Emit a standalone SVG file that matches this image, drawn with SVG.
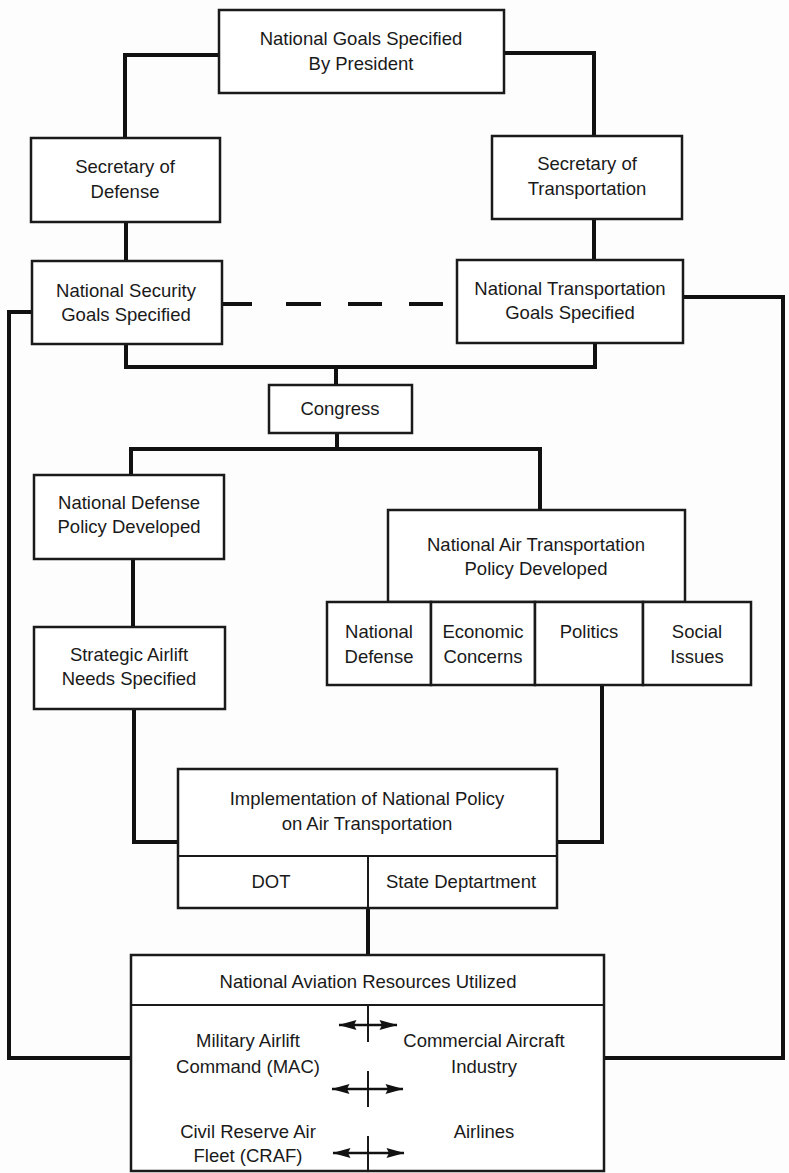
<svg xmlns="http://www.w3.org/2000/svg" width="789" height="1173" viewBox="0 0 789 1173">
<style>
.box{fill:#fff;stroke:#1a1a1a;stroke-width:2.5}
.div{stroke:#1a1a1a;stroke-width:2;fill:none}
.con{stroke:#111;stroke-width:4;fill:none;stroke-linejoin:miter;stroke-linecap:square}
.arr{stroke:#111;stroke-width:2.5;fill:none}
text{font-family:"Liberation Sans",Arial,sans-serif;font-size:18.5px;fill:#1a1a1a;text-anchor:middle}
</style>
<defs>
<marker id="ah" viewBox="0 0 18 11" refX="17.5" refY="5.5" markerWidth="18" markerHeight="11" markerUnits="userSpaceOnUse" orient="auto-start-reverse" overflow="visible">
<path d="M0,0.5 L18,5.5 L0,10.5 L2.5,5.5 Z" fill="#111"/>
</marker>
</defs>
<rect width="789" height="1173" fill="#fdfdfd"/>
<g id="connectors">
<polyline class="con" points="219,55 125,55 125,138"/>
<polyline class="con" points="504,53 594,53 594,136"/>
<line class="con" x1="126" y1="222" x2="126" y2="261"/>
<line class="con" x1="594" y1="219" x2="594" y2="260"/>
<g class="con">
<line x1="222" y1="304" x2="250" y2="304"/>
<line x1="288" y1="304" x2="319" y2="304"/>
<line x1="350" y1="304" x2="380" y2="304"/>
<line x1="411" y1="304" x2="441" y2="304"/>
</g>
<polyline class="con" points="126,344 126,367 595,367 595,343"/>
<line class="con" x1="336" y1="367" x2="336" y2="385"/>
<polyline class="con" points="131,475 131,449 540,449 540,510"/>
<line class="con" x1="337" y1="433" x2="337" y2="449"/>
<line class="con" x1="133" y1="559" x2="133" y2="627"/>
<polyline class="con" points="134,709 134,842 178,842"/>
<polyline class="con" points="602,685 602,842 557,842"/>
<line class="con" x1="368" y1="908" x2="368" y2="955"/>
<polyline class="con" points="32,312 9,312 9,1058 131,1058"/>
<polyline class="con" points="683,297 783,297 783,1058 604,1058"/>
</g>
<g id="n-president">
<rect class="box" x="219" y="10" width="285" height="83"/>
<text x="361" y="45">National Goals Specified</text>
<text x="361" y="70">By President</text>
</g>
<g id="n-secdef">
<rect class="box" x="31" y="138" width="189" height="84"/>
<text x="125" y="173">Secretary of</text>
<text x="125" y="198">Defense</text>
</g>
<g id="n-sectrans">
<rect class="box" x="492" y="136" width="190" height="83"/>
<text x="587" y="170">Secretary of</text>
<text x="587" y="195">Transportation</text>
</g>
<g id="n-nsg">
<rect class="box" x="32" y="261" width="190" height="83"/>
<text x="126" y="297">National Security</text>
<text x="126" y="321">Goals Specified</text>
</g>
<g id="n-ntg">
<rect class="box" x="457" y="260" width="226" height="83"/>
<text x="570" y="295">National Transportation</text>
<text x="570" y="319">Goals Specified</text>
</g>
<g id="n-congress">
<rect class="box" x="269" y="385" width="143" height="48"/>
<text x="340" y="415">Congress</text>
</g>
<g id="n-ndp">
<rect class="box" x="34" y="475" width="190" height="84"/>
<text x="129" y="509">National Defense</text>
<text x="129" y="533">Policy Developed</text>
</g>
<g id="n-san">
<rect class="box" x="34" y="627" width="191" height="82"/>
<text x="129" y="661">Strategic Airlift</text>
<text x="129" y="685">Needs Specified</text>
</g>
<g id="n-natp">
<rect class="box" x="388" y="510" width="297" height="92"/>
<text x="536" y="551">National Air Transportation</text>
<text x="536" y="575">Policy Developed</text>
</g>
<g id="n-natdef">
<rect class="box" x="327" y="602" width="104" height="83"/>
<text x="379" y="638">National</text>
<text x="379" y="663">Defense</text>
</g>
<g id="n-econ">
<rect class="box" x="431" y="602" width="104" height="83"/>
<text x="483" y="638">Economic</text>
<text x="483" y="663">Concerns</text>
</g>
<g id="n-politics">
<rect class="box" x="535" y="602" width="108" height="83"/>
<text x="589" y="638">Politics</text>
</g>
<g id="n-social">
<rect class="box" x="643" y="602" width="108" height="83"/>
<text x="697" y="638">Social</text>
<text x="697" y="663">Issues</text>
</g>
<g id="n-impl">
<rect class="box" x="178" y="769" width="379" height="139"/>
<line class="div" x1="178" y1="856" x2="557" y2="856"/>
<line class="div" x1="368" y1="856" x2="368" y2="908"/>
<text x="367" y="805">Implementation of National Policy</text>
<text x="367" y="830">on Air Transportation</text>
<text x="271" y="888">DOT</text>
<text x="461" y="888">State Deptartment</text>
</g>
<g id="n-resources">
<rect class="box" x="131" y="955" width="473" height="216"/>
<line class="div" x1="131" y1="1005" x2="604" y2="1005"/>
<text x="368" y="988">National Aviation Resources Utilized</text>
<line class="div" x1="368" y1="1005" x2="368" y2="1042"/>
<line class="div" x1="368" y1="1071" x2="368" y2="1107"/>
<line class="div" x1="368" y1="1136" x2="368" y2="1171"/>
<line class="arr" x1="339" y1="1025" x2="397" y2="1025" marker-start="url(#ah)" marker-end="url(#ah)"/>
<line class="arr" x1="332" y1="1089" x2="403" y2="1089" marker-start="url(#ah)" marker-end="url(#ah)"/>
<line class="arr" x1="333" y1="1153" x2="404" y2="1153" marker-start="url(#ah)" marker-end="url(#ah)"/>
<text x="248" y="1047">Military Airlift</text>
<text x="248" y="1073">Command (MAC)</text>
<text x="484" y="1047">Commercial Aircraft</text>
<text x="484" y="1073">Industry</text>
<text x="248" y="1138">Civil Reserve Air</text>
<text x="248" y="1162">Fleet (CRAF)</text>
<text x="484" y="1138">Airlines</text>
</g>
</svg>
